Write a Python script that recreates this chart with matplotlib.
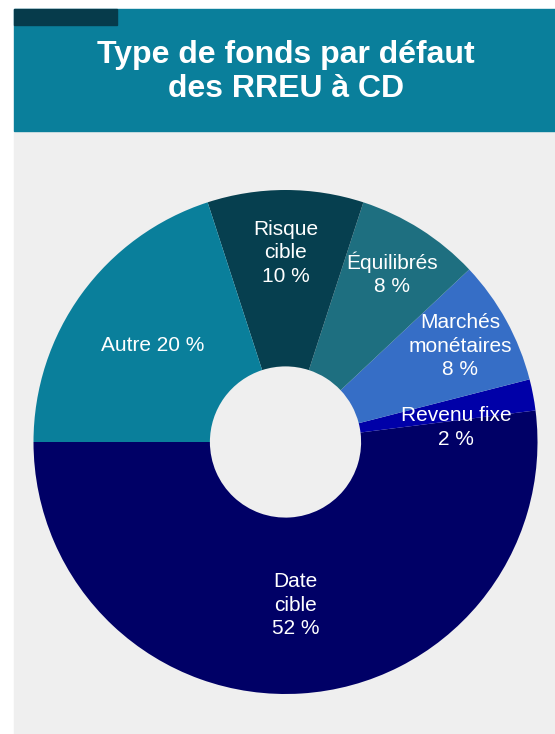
import numpy as np
import matplotlib
matplotlib.use("Agg")
import matplotlib.pyplot as plt
from matplotlib.patches import Rectangle

plt.rcParams['font.family'] = ['Liberation Sans', 'DejaVu Sans']

title = "Type de fonds par défaut\ndes RREU à CD"
categories = ["Date\ncible", "Revenu fixe", "Marchés\nmonétaires", "Équilibrés", "Risque\ncible", "Autre"]
values = [52, 2, 8, 8, 10, 20]
label_fmt = ["{c}\n{v} %", "{c}\n{v} %", "{c}\n{v} %", "{c}\n{v} %", "{c}\n{v} %", "{c} {v} %"]
colors = ["#000066", "#0000a8", "#366ec6", "#1e6f80", "#063f4f", "#0a7f9b"]
label_radius = [0.65, 0.68, 0.79, 0.79, 0.75, 0.65]
label_angle_shift = [0, -6, 0, 0, 0, 0]

W, H = 555, 734
fig = plt.figure(figsize=(W / 100, H / 100), dpi=100)
fig.patch.set_facecolor("white")

def px(x0, y0, x1, y1):
    return (x0 / W, 1 - y1 / H), (x1 - x0) / W, (y1 - y0) / H

# grey panel
xy, w, h = px(14, 131, 555, 734)
fig.patches.append(Rectangle(xy, w, h, transform=fig.transFigure, color="#efefef", zorder=0))
# banner
xy, w, h = px(14, 9, 555, 131)
fig.patches.append(Rectangle(xy, w, h, transform=fig.transFigure, color="#0a7f9b", zorder=0))
xy, w, h = px(14, 9, 117, 25)
fig.patches.append(Rectangle(xy, w, h, transform=fig.transFigure, color="#063b4b", zorder=1))

fig.text(286 / W, 1 - 72 / H, title, ha="center", va="center", color="white",
         fontsize=23, fontweight="bold", linespacing=1.15, zorder=3)

# pie axes
cx, cy, R = 285.5, 442, 252
ax = fig.add_axes([(cx - R) / W, 1 - (cy + R) / H, 2 * R / W, 2 * R / H], zorder=5)
ax.set_xlim(-1, 1)
ax.set_ylim(-1, 1)
ax.set_aspect("equal")
ax.axis("off")

wedges, _ = ax.pie(values, colors=colors, startangle=180, counterclock=True, radius=1,
                   wedgeprops=dict(width=0.7, linewidth=0), center=(0, 0))
ax.set_xlim(-1, 1)
ax.set_ylim(-1, 1)

for wdg, c, v, fmt, r, sh in zip(wedges, categories, values, label_fmt, label_radius, label_angle_shift):
    ang = np.deg2rad((wdg.theta1 + wdg.theta2) / 2 + sh)
    ax.text(r * np.cos(ang), r * np.sin(ang), fmt.format(c=c, v=v), ha="center", va="center",
            color="white", fontsize=15, linespacing=1.3)

fig.savefig("out.png", dpi=100, facecolor=fig.get_facecolor())
